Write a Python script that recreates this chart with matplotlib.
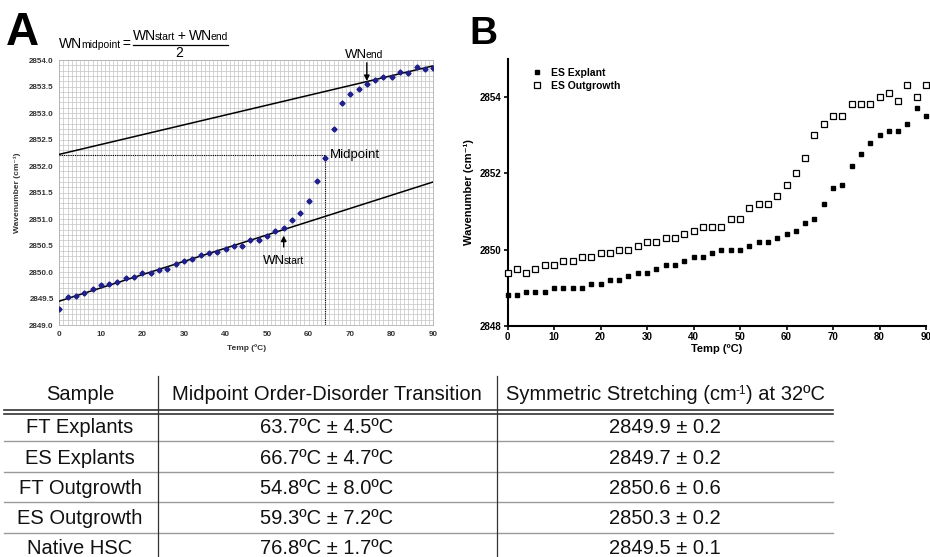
import matplotlib
matplotlib.use("Agg")
import matplotlib.pyplot as plt
from matplotlib.ticker import MultipleLocator, FormatStrFormatter
from matplotlib.lines import Line2D
import numpy as np

plt.rcParams['font.family'] = ['Liberation Sans', 'DejaVu Sans']

# ---------------- Data ----------------
# Panel A
temp_a = list(range(0, 92, 2))
wn_a = [2849.31, 2849.52, 2849.55, 2849.61, 2849.67, 2849.75, 2849.77, 2849.81,
        2849.88, 2849.91, 2849.98, 2849.98, 2850.03, 2850.06, 2850.15, 2850.20,
        2850.25, 2850.33, 2850.35, 2850.38, 2850.44, 2850.50, 2850.50, 2850.60,
        2850.60, 2850.67, 2850.78, 2850.83, 2850.99, 2851.12, 2851.34, 2851.72,
        2852.15, 2852.69, 2853.18, 2853.36, 2853.46, 2853.55, 2853.63, 2853.68,
        2853.68, 2853.78, 2853.76, 2853.86, 2853.83, 2853.85]
fit_x = [0, 90]
fit_low = [2849.45, 2851.70]
fit_high = [2852.22, 2853.89]
mid_temp = 64
mid_wn = 2852.2
start_temp, start_wn = 54, 2850.80
end_temp, end_wn = 74, 2853.55

# Panel B
temp_b = list(range(0, 92, 2))
es_explant = [2848.8, 2848.8, 2848.9, 2848.9, 2848.9, 2849.0, 2849.0, 2849.0,
              2849.0, 2849.1, 2849.1, 2849.2, 2849.2, 2849.3, 2849.4, 2849.4,
              2849.5, 2849.6, 2849.6, 2849.7, 2849.8, 2849.8, 2849.9, 2850.0,
              2850.0, 2850.0, 2850.1, 2850.2, 2850.2, 2850.3, 2850.4, 2850.5,
              2850.7, 2850.8, 2851.2, 2851.6, 2851.7, 2852.2, 2852.5, 2852.8,
              2853.0, 2853.1, 2853.1, 2853.3, 2853.7, 2853.5]
es_outgrowth = [2849.4, 2849.5, 2849.4, 2849.5, 2849.6, 2849.6, 2849.7, 2849.7,
                2849.8, 2849.8, 2849.9, 2849.9, 2850.0, 2850.0, 2850.1, 2850.2,
                2850.2, 2850.3, 2850.3, 2850.4, 2850.5, 2850.6, 2850.6, 2850.6,
                2850.8, 2850.8, 2851.1, 2851.2, 2851.2, 2851.4, 2851.7, 2852.0,
                2852.4, 2853.0, 2853.3, 2853.5, 2853.5, 2853.8, 2853.8, 2853.8,
                2854.0, 2854.1, 2853.9, 2854.3, 2854.0, 2854.3]

# Table
table_header = ["Sample", "Midpoint Order-Disorder Transition"]
samples = ["FT Explants", "ES Explants", "FT Outgrowth", "ES Outgrowth", "Native HSC"]
midpoints = ["63.7ºC ± 4.5ºC", "66.7ºC ± 4.7ºC", "54.8ºC ± 8.0ºC",
             "59.3ºC ± 7.2ºC", "76.8ºC ± 1.7ºC"]
stretching = ["2849.9 ± 0.2", "2849.7 ± 0.2", "2850.6 ± 0.6",
              "2850.3 ± 0.2", "2849.5 ± 0.1"]

# ---------------- Figure ----------------
W, H = 930, 557
fig = plt.figure(figsize=(W / 100, H / 100), dpi=100)
renderer = fig.canvas.get_renderer()


def fx(px):
    return px / W


def fy(py):
    return 1 - py / H


def rich(x, y, parts, ha='left', tight=1.2, **kw):
    """parts: list of (text, fontsize, dy_px). x,y in ref pixels (y baseline)."""
    texts = []
    cur = 0.0
    for s, fs, dy in parts:
        t = fig.text(fx(x), fy(y - dy), s, fontsize=fs, ha='left', va='baseline', **kw)
        bb = t.get_window_extent(renderer=renderer)
        texts.append((t, cur, dy))
        cur += bb.width - tight
    shift = 0
    if ha == 'center':
        shift = -cur / 2
    for t, off, dy in texts:
        t.set_position((fx(x + off + shift), fy(y - dy)))
    return cur


# ---------- Panel A ----------
axA = fig.add_axes([fx(59.3), fy(325), fx(433.3) - fx(59.3), fy(60) - fy(325)])
axA.set_xlim(0, 90)
axA.set_ylim(2849.0, 2854.0)
axA.xaxis.set_major_locator(MultipleLocator(10))
axA.xaxis.set_minor_locator(MultipleLocator(1))
axA.yaxis.set_major_locator(MultipleLocator(0.5))
axA.yaxis.set_minor_locator(MultipleLocator(0.1))
axA.yaxis.set_major_formatter(FormatStrFormatter('%.1f'))
axA.grid(which='both', color='#c4c4c4', linewidth=0.5)
axA.set_axisbelow(True)
for sp in axA.spines.values():
    sp.set_color('#b0b0b0')
    sp.set_linewidth(0.6)
axA.tick_params(which='both', length=0, labelsize=5.8, pad=4)
for lab in axA.get_xticklabels() + axA.get_yticklabels():
    lab.set_fontweight('bold')
    lab.set_color('#333333')
axA.set_xlabel('Temp (ºC)', fontsize=6, fontweight='bold', color='#333333', labelpad=5)
axA.set_ylabel('Wavenumber (cm⁻¹)', fontsize=6, fontweight='bold', color='#333333', labelpad=6)

axA.plot(fit_x, fit_low, color='black', lw=1.1, zorder=3)
axA.plot(fit_x, fit_high, color='black', lw=1.1, zorder=3)
axA.plot([0, mid_temp], [mid_wn, mid_wn], color='black', lw=0.8, ls=(0, (1, 1)), zorder=3)
axA.plot([mid_temp, mid_temp], [mid_wn, 2849.0], color='black', lw=0.8, ls=(0, (1, 1)), zorder=3)
axA.plot(temp_a, wn_a, ls='none', marker='D', markersize=2.6, color='#1f1f8c', zorder=4)

axA.text(mid_temp + 1.2, mid_wn, 'Midpoint', fontsize=9.5, va='center', ha='left')
axA.annotate('', xy=(end_temp, end_wn), xytext=(end_temp, 2854.0),
             arrowprops=dict(arrowstyle='-|>', color='black', lw=1, mutation_scale=8),
             annotation_clip=False)
axA.annotate('', xy=(start_temp, start_wn - 0.06), xytext=(start_temp, 2850.42),
             arrowprops=dict(arrowstyle='-|>', color='black', lw=1, mutation_scale=8))

rich(345, 58, [('WN', 9.5, 0), ('end', 7.5, 0)])
rich(263, 264, [('WN', 9.5, 0), ('start', 7.5, 0)])

# formula
rich(59, 48, [('WN', 10, 0), ('midpoint', 7.5, 0), (' =', 10, 0)])
rich(180, 40, [('WN', 10, 0), ('start', 7.5, 0), (' + ', 10, 0), ('WN', 10, 0), ('end', 7.5, 0)],
     ha='center')
fig.add_artist(Line2D([fx(133), fx(228)], [fy(44.5), fy(44.5)], color='black', lw=0.9))
fig.text(fx(179), fy(57), '2', fontsize=10, ha='center', va='baseline')

fig.text(fx(6), fy(45), 'A', fontsize=33, fontweight='bold', ha='left', va='baseline')

# ---------- Panel B ----------
axB = fig.add_axes([fx(507.5), fy(326), fx(926) - fx(507.5), fy(58.6) - fy(326)])
axB.set_xlim(0, 90)
axB.set_ylim(2848, 2855)
axB.xaxis.set_major_locator(MultipleLocator(10))
axB.set_yticks([2848, 2850, 2852, 2854])
for s in ['top', 'right']:
    axB.spines[s].set_visible(False)
for s in ['left', 'bottom']:
    axB.spines[s].set_linewidth(1.5)
axB.tick_params(length=3, width=1.2, labelsize=7, pad=1.5)
for lab in axB.get_xticklabels() + axB.get_yticklabels():
    lab.set_fontweight('bold')
axB.set_xlabel('Temp (ºC)', fontsize=8, fontweight='bold', labelpad=1)
axB.set_ylabel('Wavenumber (cm⁻¹)', fontsize=8, fontweight='bold', labelpad=4)
axB.plot(temp_b, es_explant, ls='none', marker='s', markersize=3.2, color='black',
         label='ES Explant', clip_on=False, zorder=4)
axB.plot(temp_b, es_outgrowth, ls='none', marker='s', markersize=4.2, mfc='white',
         mec='black', mew=0.9, label='ES Outgrowth', clip_on=False, zorder=4)
leg = axB.legend(loc='upper left', bbox_to_anchor=(0.035, 1.0), frameon=False,
                 handlelength=1.0, handletextpad=0.9, labelspacing=0.25,
                 prop={'size': 7.5, 'weight': 'bold'})

fig.text(fx(469), fy(44), 'B', fontsize=28, fontweight='bold', ha='left', va='baseline')

# ---------- Table ----------
tfont = ['Liberation Sans Narrow', 'Liberation Sans', 'DejaVu Sans']
tsize = 14.5
col_centers = [80, 327, 665]
left, right = 4, 833
v1, v2 = 158, 497
header_base = 400
row_bases = [433, 464, 494, 524, 554]
sep_ys = [441, 472, 502, 533]
tkw = dict(family=tfont, color='#111111')

fig.text(fx(col_centers[0]), fy(header_base), table_header[0], fontsize=tsize, ha='center',
         va='baseline', **tkw)
fig.text(fx(col_centers[1]), fy(header_base), table_header[1], fontsize=tsize, ha='center',
         va='baseline', **tkw)
rich(col_centers[2], header_base, [('Symmetric Stretching (cm', tsize, 0), ('-1', 8.5, 6),
                                   (') at 32ºC', tsize, 0)], ha='center', tight=0.5, **tkw)

for i in range(len(samples)):
    y = row_bases[i]
    fig.text(fx(col_centers[0]), fy(y), samples[i], fontsize=tsize, ha='center',
             va='baseline', **tkw)
    fig.text(fx(col_centers[1]), fy(y), midpoints[i], fontsize=tsize, ha='center',
             va='baseline', **tkw)
    fig.text(fx(col_centers[2]), fy(y), stretching[i], fontsize=tsize, ha='center',
             va='baseline', **tkw)

# header double line
for yy in [410, 414]:
    fig.add_artist(Line2D([fx(left), fx(right)], [fy(yy), fy(yy)], color='#333333', lw=1.2))
# row separators
for yy in sep_ys:
    fig.add_artist(Line2D([fx(left), fx(right)], [fy(yy), fy(yy)], color='#9a9a9a', lw=1.0))
# vertical lines
for xx in [v1, v2]:
    fig.add_artist(Line2D([fx(xx), fx(xx)], [fy(376), fy(557)], color='#333333', lw=0.9))

fig.savefig('out.png', dpi=100)
